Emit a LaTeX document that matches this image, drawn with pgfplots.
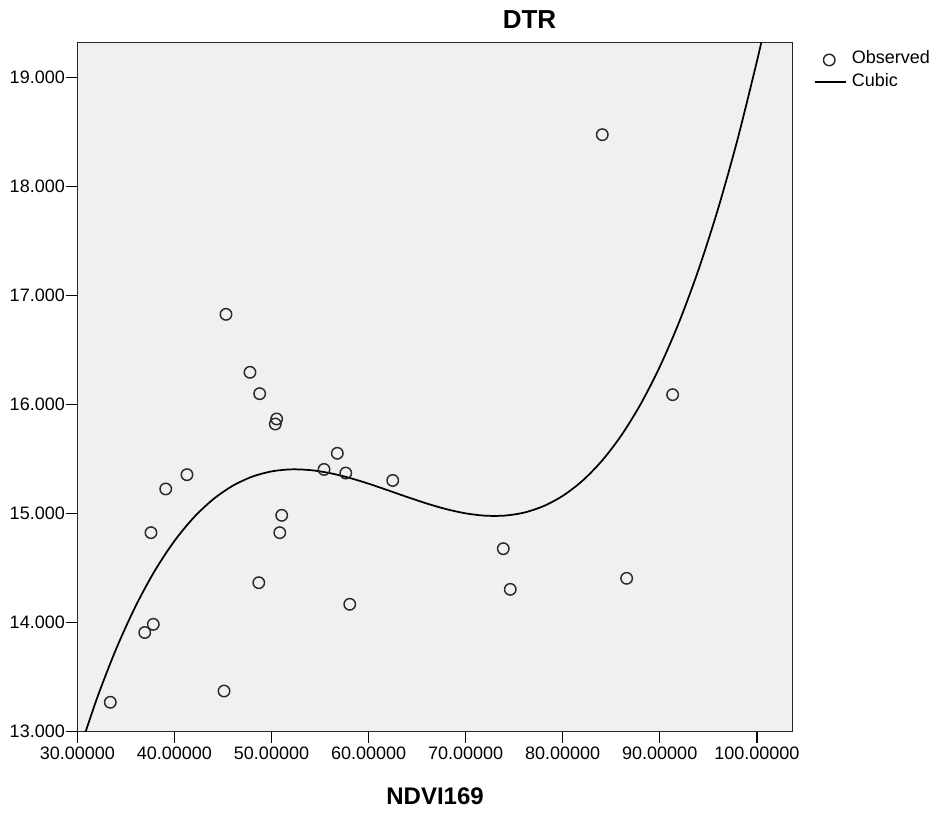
\documentclass[border=0pt]{standalone}
\usepackage{fontspec}
\setmainfont{Liberation Sans}
\usepackage{pgfplots}
\pgfplotsset{compat=1.18}
\definecolor{bgc}{HTML}{F0F0F0}
\definecolor{mk}{HTML}{2A2A2A}
\pgfplotsset{
  obslegend/.style={legend image code/.code={\draw[mark repeat=2,mark phase=2,##1] plot coordinates {(0pt,0pt) (11pt,0pt) (23.8pt,0pt)};}},
  cublegend/.style={legend image code/.code={\draw[##1, line width=1.5pt] (0pt,0pt) -- (23.8pt,0pt);}},
}
\begin{document}
\begin{tikzpicture}
\begin{axis}[
  scale only axis,
  width=536.475pt, height=516.75pt,
  xmin=30, xmax=103.7, ymin=13, ymax=19.321,
  xtick={30,40,...,100}, ytick={13,14,...,19},
  axis background/.style={fill=bgc},
  axis line style={line width=1pt, black!85},
  tick style={black, line width=1.1pt},
  tick align=outside,
  major tick length=8.25pt,
  xtick pos=bottom, ytick pos=left,
  xticklabel={\pgfmathprintnumber[fixed,fixed zerofill,precision=5,assume math mode=true]{\tick}},
  yticklabel={\pgfmathprintnumber[fixed,fixed zerofill,precision=3,assume math mode=true]{\tick}},
  ticklabel style={font=\fontsize{13.5}{16}\selectfont},
  yticklabel style={inner sep=1pt},
  title={DTR},
  title style={at={(axis description cs:0.632,1)}, anchor=base, yshift=5pt, font=\bfseries\fontsize{19.5}{22}\selectfont},
  xlabel={NDVI169},
  xlabel style={at={(axis description cs:0.5,0)}, anchor=base, yshift=-54.5pt, font=\bfseries\fontsize{18}{20}\selectfont},
  legend style={at={(axis description cs:1.0288,1)}, anchor=north west, yshift=-7pt, draw=none, fill=none, inner sep=0pt, row sep=5.4pt, column sep=2.5pt,
    font=\fontsize{13.5}{16}\selectfont, nodes={inner sep=1pt, text height=0.75em, text depth=0.2em}},
  legend cell align=left,
]
\coordinate (AX0) at (rel axis cs:0,0);
\coordinate (AX1) at (rel axis cs:1,1);
\addplot[only marks, mark=o, mark size=4.3pt, mark options={draw=mk, line width=1.1pt}, obslegend]
  table {
x y
33.39 13.270
36.94 13.910
37.82 13.985
37.58 14.826
39.10 15.227
41.29 15.358
45.11 13.373
48.69 14.367
51.05 14.985
50.85 14.826
45.31 16.829
47.78 16.297
48.78 16.101
50.53 15.869
50.39 15.823
56.78 15.554
55.41 15.406
57.65 15.373
62.49 15.305
58.06 14.169
73.88 14.679
74.60 14.306
86.59 14.407
84.08 18.477
91.33 16.092
};
\addlegendentry{Observed}
\addplot[black, line width=1.3pt, smooth, no marks, cublegend]
  table {
x y
30 12.7696
32 13.3014
34 13.7607
36 14.1520
38 14.4802
40 14.7499
42 14.9660
44 15.1331
46 15.2560
48 15.3394
50 15.3880
52 15.4066
54 15.3999
56 15.3726
58 15.3295
60 15.2753
62 15.2146
64 15.1524
66 15.0933
68 15.0420
70 15.0032
72 14.9817
74 14.9823
76 15.0095
78 15.0683
80 15.1633
82 15.2992
84 15.4808
86 15.7128
88 15.9999
90 16.3469
92 16.7585
94 17.2394
96 17.7944
98 18.4282
100 19.1456
101 19.5370
};
\addlegendentry{Cubic}
\end{axis}
\pgfresetboundingbox
\path[use as bounding box] ([shift={(-58.05pt,-62.475pt)}]AX0) rectangle ([shift={(108.225pt,32.025pt)}]AX1);
\end{tikzpicture}
\end{document}
